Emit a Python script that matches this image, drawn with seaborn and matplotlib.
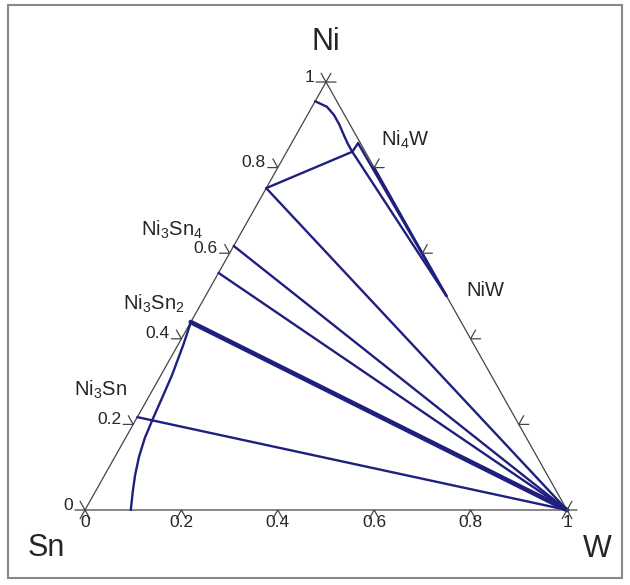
import numpy as np
import pandas as pd
import seaborn as sns
import matplotlib.pyplot as plt
from matplotlib.patches import Rectangle

sns.set_style('white')
plt.rcParams['font.family'] = ['Liberation Sans', 'DejaVu Sans']
plt.rcParams['mathtext.default'] = 'regular'

navy = '#1f1f80'
edge = '#444444'

# compositions as (W fraction, Ni fraction)
sn_side_ni = [0.217, 0.439, 0.554, 0.617, 0.752]   # Ni-Sn side points tied to W
thick_ni = 0.439
fcc_w = [0.0, 0.031, 0.055, 0.076, 0.099, 0.118, 0.136]
fcc_n = [0.955, 0.942, 0.923, 0.902, 0.876, 0.855, 0.837]
liq_w = [0.0, 0.011, 0.023, 0.029, 0.034, 0.040, 0.050, 0.063, 0.078, 0.095]
liq_n = [0.440, 0.386, 0.315, 0.262, 0.215, 0.168, 0.124, 0.082, 0.042, 0.0]
pt_a = (0.136, 0.837)
pt_c = (0.138, 0.857)
pt_ni4w = (0.2, 0.8)
pt_niw = (0.5, 0.5)
ticks = [0, 0.2, 0.4, 0.6, 0.8, 1]
tick_labels = ['0', '0.2', '0.4', '0.6', '0.8', '1']


def to_xy(w, n):
    return w + n / 2, n


# build segments
rows = []
segs = []
for n0 in sn_side_ni:
    segs.append([(0, n0), (1, 0)])
segs.append([(0, 0.752), pt_a])
segs.append([pt_a, pt_c])
segs.append([pt_a, pt_niw])
segs.append([pt_c, pt_niw])
segs.append([pt_ni4w, pt_niw])
segs.append(list(zip(fcc_w, fcc_n)))
segs.append(list(zip(liq_w, liq_n)))
for i, s in enumerate(segs):
    for w, n in s:
        x, y = to_xy(w, n)
        rows.append({'seg': i, 'X': x, 'Y': y})
df = pd.DataFrame(rows)

fig = plt.figure(figsize=(6.3, 5.85), dpi=100)
ax = fig.add_axes([0, 0, 1, 1])
# pixel mapping: x 85->0, 567->1 ; y(from bottom) 75->0, 503->1
ax.set_xlim(-85 / 482, (630 - 85) / 482)
ax.set_ylim(-75 / 428, (585 - 75) / 428)
ax.axis('off')

# triangle
ax.plot([0, 1, 0.5, 0], [0, 0, 1, 0], color=edge, lw=0.9)

sns.lineplot(data=df, x='X', y='Y', units='seg', estimator=None, sort=False,
             color=navy, linewidth=1.7, ax=ax, legend=False)
tx, ty = to_xy(0, thick_ni)
ax.plot([tx, 1], [ty, 0], color=navy, lw=3.4)

# chevron ticks
k = 10 / 491
kb = 10 / 482
for t in ticks:
    # bottom axis
    ax.plot([t - 0.5 * k, t, t + 0.5 * k], [-k, 0, -k], color=edge, lw=0.9)
    # left axis
    px, py = to_xy(0, t)
    ax.plot([px - kb, px, px - 0.5 * k], [py, py, py + k], color=edge, lw=0.9)
    # right axis
    px, py = to_xy(1 - t, t)
    ax.plot([px + kb, px, px + 0.5 * k], [py, py, py + k], color=edge, lw=0.9)

for t, lab in zip(ticks, tick_labels):
    ax.annotate(lab, (t, 0), xytext=(0, -5), textcoords='offset pixels',
                ha='center', va='top', fontsize=12.5)
    ax.annotate(lab, to_xy(0, t), xytext=(-12, 5), textcoords='offset pixels',
                ha='right', va='center', fontsize=12.5)

# corner names
ax.annotate('Ni', (0.5, 1), xytext=(0, 40), textcoords='offset pixels',
            ha='center', va='center', fontsize=22)
ax.annotate('Sn', (0, 0), xytext=(-39, -38), textcoords='offset pixels',
            ha='center', va='center', fontsize=22)
ax.annotate('W', (1, 0), xytext=(30, -39), textcoords='offset pixels',
            ha='center', va='center', fontsize=22)

# phase labels
phase_lab = [r'Ni$_4$W', 'NiW', r'Ni$_3$Sn$_4$', r'Ni$_3$Sn$_2$', r'Ni$_3$Sn']
phase_px = [(405, 140), (485, 291), (172, 230), (154, 304), (100, 390)]
for lab, (x, y) in zip(phase_lab, phase_px):
    fig.text(x / 630, 1 - y / 585, lab, ha='center', va='center', fontsize=14.5)

fig.add_artist(Rectangle((8 / 630, 7 / 585), 614 / 630, 573 / 585,
                         transform=fig.transFigure, fill=False,
                         edgecolor='#888888', lw=1.5))

fig.savefig('out.png', dpi=100)
